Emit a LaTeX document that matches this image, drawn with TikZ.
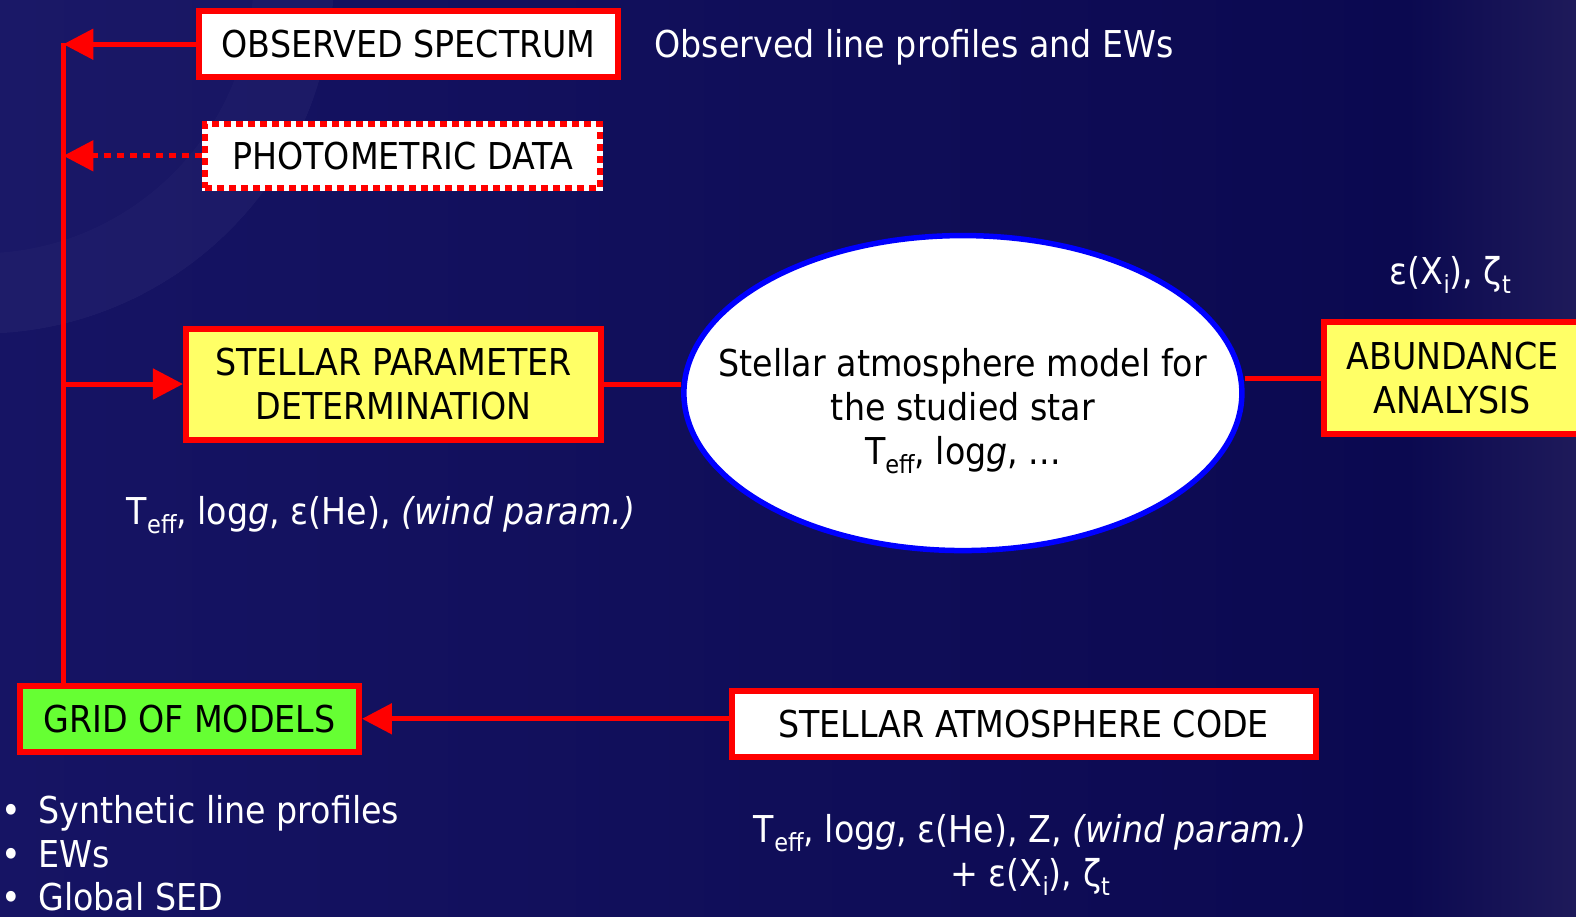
\documentclass[tikz,border=0pt]{standalone}
\usepackage{fontspec}
\setmainfont{DejaVu Sans}[FakeStretch=0.9]
\usetikzlibrary{arrows.meta,shapes.geometric}
\definecolor{boxred}{RGB}{255,0,0}
\definecolor{paleyellow}{RGB}{255,255,102}
\definecolor{gridgreen}{RGB}{102,255,51}
\definecolor{ellblue}{RGB}{0,0,255}
\definecolor{bgleft}{RGB}{22,20,100}
\definecolor{bgright}{RGB}{11,9,80}
\definecolor{bgedge}{RGB}{30,26,90}
\newcommand\lowsub[1]{\raisebox{-9pt}{\fontsize{25}{25}\selectfont #1}}
\tikzset{
  x=1.0051pt, y=-1.0053pt,
  every node/.style={font=\fontsize{37}{44}\selectfont},
  panel/.style={draw=boxred, line width=6pt, inner sep=0pt, align=center, text=black},
  wire/.style={draw=boxred, line width=5pt},
  head/.style={-{Triangle[length=30pt,width=30pt]}},
  caption/.style={text=white, inner sep=0pt},
}
\begin{document}
\begin{tikzpicture}
\useasboundingbox (0,0) rectangle (1568,912);
% backdrop with a faint seal in the upper left corner
\begin{scope}
\clip (0,0) rectangle (1568,912);
\shade[left color=bgleft, right color=bgright] (0,0) rectangle (1400,912);
\shade[left color=bgright, right color=bgedge] (1400,0) rectangle (1568,912);
\fill[white, opacity=0.02] (-20,-20) circle (352);
\fill[white, opacity=0.02, even odd rule] (-20,-20) circle (352) (-20,-20) circle (272);
\end{scope}

% boxes
\node[panel, fill=white, minimum width=419pt, minimum height=66pt] (obs) at (406.5,44) {OBSERVED SPECTRUM};
\node[panel, fill=white, preaction={draw=white, line width=6pt, solid},
      dash pattern=on 7pt off 5pt, minimum width=395pt, minimum height=64pt] (pho) at (400.5,155) {PHOTOMETRIC DATA};
\node[panel, fill=paleyellow, minimum width=415pt, minimum height=111pt] (spd) at (391.5,382) {STELLAR PARAMETER\\DETERMINATION};
\node[ellipse, draw=ellblue, line width=5.5pt, fill=white, inner sep=0pt,
      minimum width=558pt, minimum height=315pt] (ell) at (958,391) {};
\node[align=center, text=black, inner sep=0pt] (elltext) at (958,409)
      {Stellar atmosphere model for\\the studied star\\T\lowsub{eff}, log\textit{g}, ...};
\node[panel, fill=paleyellow, minimum width=257pt, minimum height=112pt] (ab) at (1445,376.5) {ABUNDANCE\\ANALYSIS};
\node[panel, fill=gridgreen, minimum width=339pt, minimum height=66pt] (grid) at (188.5,715) {GRID OF MODELS};
\node[panel, fill=white, minimum width=584pt, minimum height=66pt] (sac) at (1018.5,720) {STELLAR ATMOSPHERE CODE};

% connectors
\coordinate (spine) at (63,43);
\draw[wire] (spine) -- (spine |- grid.north);
\draw[wire, head] (obs.west) -- (obs.west -| spine);
\draw[wire, head, dash pattern=on 7pt off 6pt] (pho.west) -- (pho.west -| spine);
\draw[wire, head] (spd.west -| spine) -- (spd.west);
\draw[wire] (spd.east) -- (spd.east -| ell.west);
\draw[wire] (ell.east |- ab.west) -- (ab.west);
\draw[wire, head] (sac.west |- grid.east) -- (grid.east);

% annotations
\node[caption, anchor=base west] (obsnote) at (651,57) {Observed line profiles and EWs};
\node[caption, anchor=base] (abnote) at (1443,283) {ε(X\lowsub{i}), ζ\lowsub{t}};
\node[caption, anchor=base west] (spdnote) at (126,522) {T\lowsub{eff}, log\textit{g}, ε(He), \textit{(wind param.)}};
\node[caption, anchor=base] (sacnote1) at (1025,838) {T\lowsub{eff}, log\textit{g}, ε(He), Z, \textit{(wind param.)}};
\node[caption, anchor=base] (sacnote2) at (1025,882) {+ ε(X\lowsub{i}), ζ\lowsub{t}};
\node[caption, anchor=base west] (b1) at (0,819) {\makebox[38pt][l]{\hspace{1pt}•}Synthetic line profiles};
\node[caption, anchor=base west] (b2) at (0,863) {\makebox[38pt][l]{\hspace{1pt}•}EWs};
\node[caption, anchor=base west] (b3) at (0,906) {\makebox[38pt][l]{\hspace{1pt}•}Global SED};
\end{tikzpicture}
\end{document}
